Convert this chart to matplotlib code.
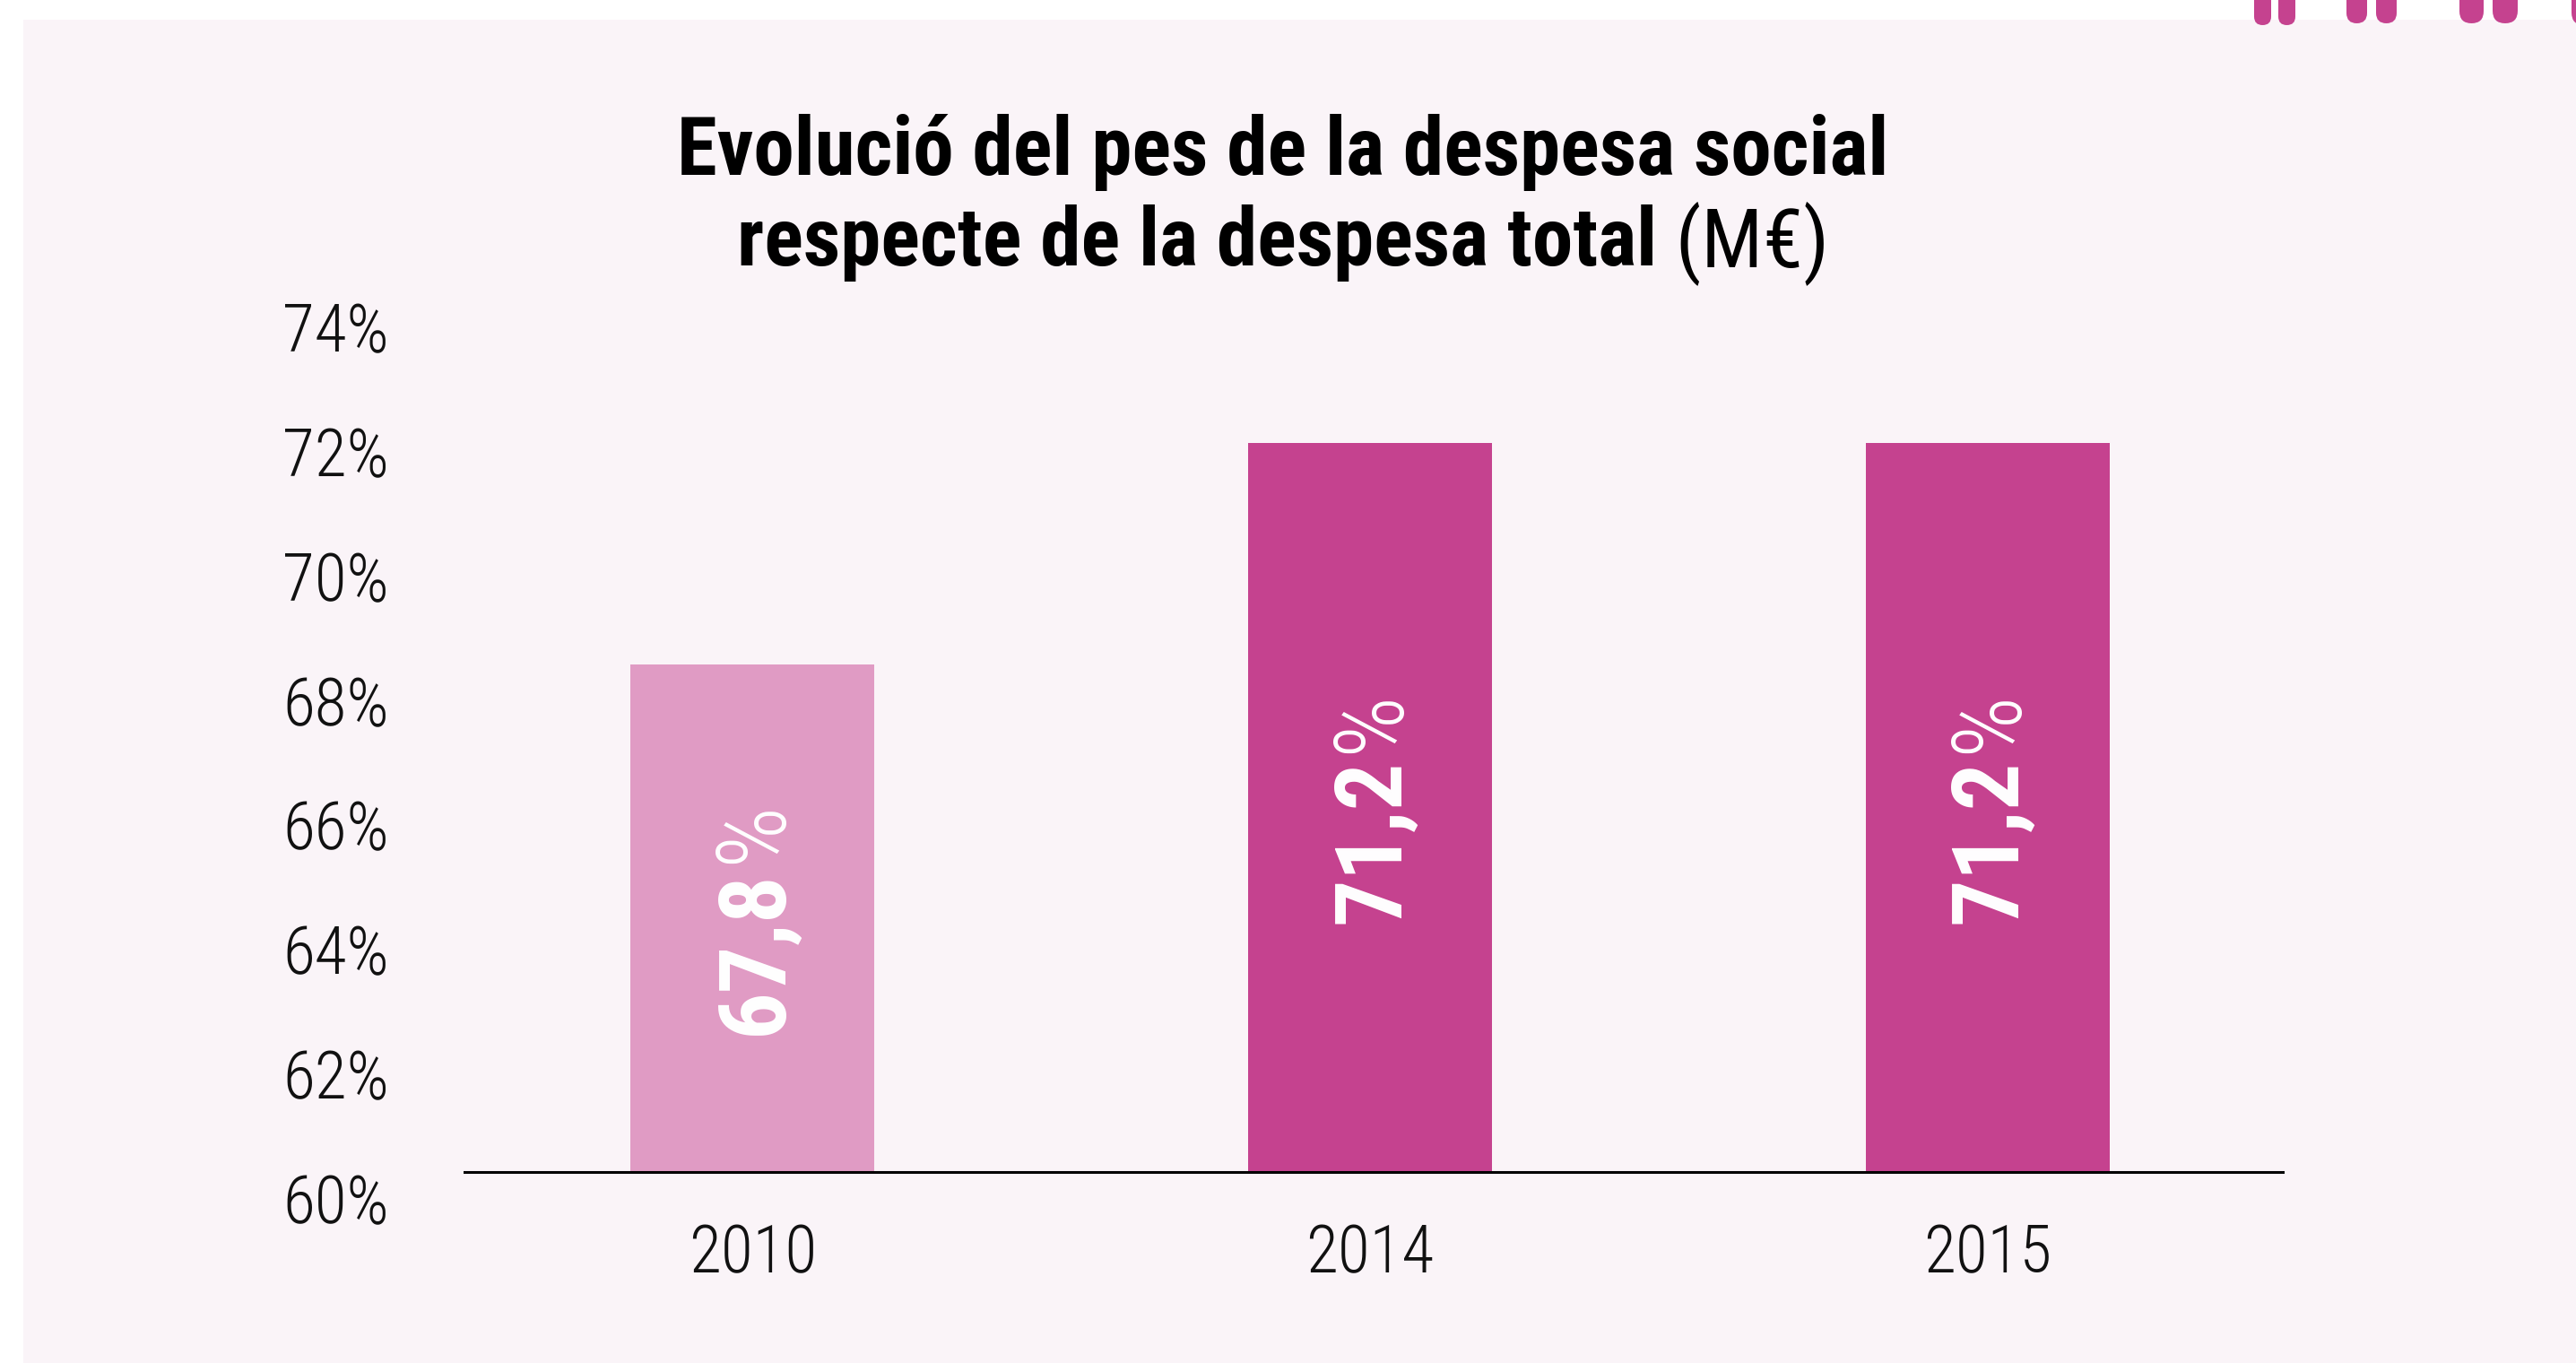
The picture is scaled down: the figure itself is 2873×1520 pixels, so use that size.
"""
pes de la despesa social sobre la despesa total, 2010-2015
"""
import matplotlib
matplotlib.use("Agg")
import matplotlib.pyplot as plt
from matplotlib.patches import Rectangle, FancyBboxPatch

years = ["2010", "2014", "2015"]
share = [67.8, 71.2, 71.2]
labels = ["67,8", "71,2", "71,2"]
bar_colors = ["#E09BC4", "#C5428F", "#C5428F"]
ytick_vals = [60, 62, 64, 66, 68, 70, 72, 74]

BG = "#FAF4F8"
PINK = "#C5428F"
COND = ["Roboto Condensed", "Barlow Semi Condensed", "DejaVu Sans"]

W, H, DPI = 2873, 1520, 100
fig = plt.figure(figsize=(W / DPI, H / DPI), dpi=DPI, facecolor="white")

# pale panel behind everything
fig.patches.append(Rectangle((26 / W, 0), 1 - 26 / W, 1 - 22 / H,
                             transform=fig.transFigure, facecolor=BG,
                             edgecolor="none", zorder=-10))

# rounded "ticks" hanging from the top edge (px: left, width, bottom)
for left, wid, bot in [(2514, 19, 28), (2541, 19, 28), (2617, 23, 26), (2650, 23, 26),
                       (2743, 27, 26), (2780, 28, 26), (2868, 28, 28)]:
    fig.patches.append(FancyBboxPatch(
        (left / DPI, (H - bot) / DPI), wid / DPI, 60 / DPI,
        boxstyle=f"round,pad=0,rounding_size={wid / 2 / DPI}",
        transform=fig.dpi_scale_trans, facecolor=PINK, edgecolor="none"))

# axes: baseline (60) at y=1307px, ~72.6 px per point
base_px, px_per = 1307, 72.6
ymin, ymax = 59.4, 74.0
ax = fig.add_axes([517 / W, (H - base_px - (60 - ymin) * px_per) / H,
                   (2548 - 517) / W, (ymax - ymin) * px_per / H])
ax.set_facecolor("none")
x = list(range(len(years)))
ax.bar(x, [v - 60 for v in share], bottom=60, width=0.395,
       color=bar_colors, zorder=2)
ax.axhline(60, color="black", lw=2.2, zorder=3)
ax.set_xlim(-0.468, 2.481)
ax.set_ylim(ymin, ymax)
for s in ax.spines.values():
    s.set_visible(False)

# the printed axis labels don't sit exactly on the bar scale in the original
ax.set_yticks([59.60 + (v - 60) * 0.956 for v in ytick_vals])
ax.set_yticklabels([f"{v}%" for v in ytick_vals], family=COND, fontweight="light",
                   fontsize=53, color="#111111")
ax.set_xticks(x)
ax.set_xticklabels(years, family=COND, fontweight="light", fontsize=53,
                   color="#111111")
ax.tick_params(axis="y", length=0, pad=60)
ax.tick_params(axis="x", length=0, pad=9)

# value labels inside bars, rotated: bold number + light "%"
pairs = []
for i, (v, lab) in enumerate(zip(share, labels)):
    mid = (60 + v) / 2
    a1 = ax.annotate(lab, xy=(i, mid), xytext=(23, 0), textcoords="offset points",
                     rotation=90, rotation_mode="anchor", ha="right", va="baseline",
                     family=COND, fontweight="bold", fontsize=75, color="white")
    a2 = ax.annotate("%", xy=(i, mid), xytext=(23, 5), textcoords="offset points",
                     rotation=90, rotation_mode="anchor", ha="left", va="baseline",
                     family=COND, fontweight="light", fontsize=78, color="white")
    pairs.append((mid, a1, a2))

# title
fig.text(1431 / W, 1 - 170 / H, "Evolució del pes de la despesa social",
         ha="center", va="center", family=COND, fontweight="bold",
         fontsize=65.5, color="black")
t1 = fig.text(1877 / W, 1 - 271 / H, "respecte de la despesa total",
              ha="right", va="center", family=COND, fontweight="bold",
              fontsize=65.5, color="black")
t2 = fig.text(1877 / W, 1 - 271 / H, " (M€)", ha="left", va="center",
              family=COND, fontsize=65.5, color="black")

# centre the two-part pieces
fig.canvas.draw()
r = fig.canvas.get_renderer()
b1, b2 = t1.get_window_extent(r), t2.get_window_extent(r)
shift = 1431 - (b1.x0 + b2.x1) / 2
for t in (t1, t2):
    px, py = t.get_position()
    t.set_position((px + shift / W, py))

pt = DPI / 72
for mid, a1, a2 in pairs:
    e1, e2 = a1.get_window_extent(r), a2.get_window_extent(r)
    cy = ax.transData.transform((0, mid))[1]
    dy = (cy - (e1.y0 + e2.y1) / 2) / pt
    for a in (a1, a2):
        ox, oy = a.xyann
        a.xyann = (ox, oy + dy)

fig.savefig("out.png", dpi=DPI, facecolor="white")
